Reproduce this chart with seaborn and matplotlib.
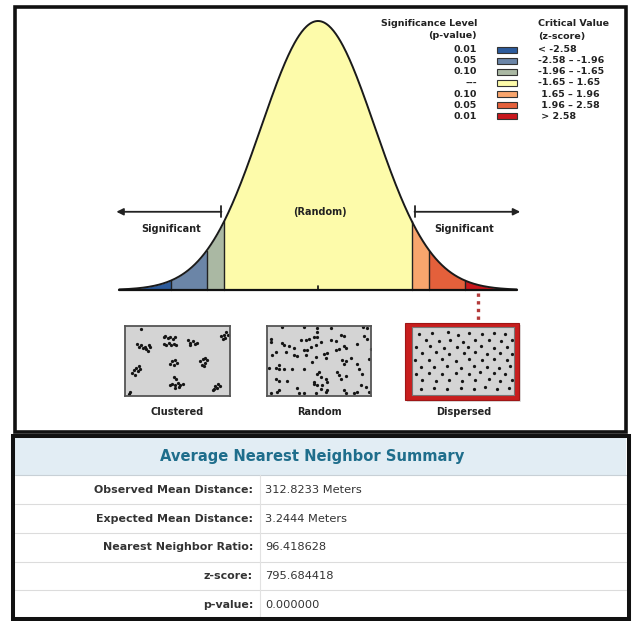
import numpy as np
import matplotlib
matplotlib.use("Agg")
import matplotlib.pyplot as plt
from matplotlib.patches import Rectangle
import seaborn as sns
import pandas as pd

sns.set_theme(style="white")
plt.rcParams['font.family'] = ['DejaVu Sans']

W, H = 632, 621

# ---------------- data ----------------
z_bounds = [-3.5, -2.58, -1.96, -1.65, 1.65, 1.96, 2.58, 3.5]
band_colors = ["#2c5b9c", "#6b85a7", "#aab8a3", "#fdfbaa", "#f8a56d", "#e4603b", "#c9171d"]
p_levels = ["0.01", "0.05", "0.10", "---", "0.10", "0.05", "0.01"]
z_ranges = ["< -2.58", "-2.58 \u2013 -1.96", "-1.96 \u2013 -1.65", "-1.65 \u2013 1.65",
            " 1.65 \u2013 1.96", " 1.96 \u2013 2.58", " > 2.58"]
pattern_names = ["Clustered", "Random", "Dispersed"]

summary_title = "Average Nearest Neighbor Summary"
summary_labels = ["Observed Mean Distance:", "Expected Mean Distance:",
                  "Nearest Neighbor Ratio:", "z-score:", "p-value:"]
summary_values = ["312.8233 Meters", "3.2444 Meters", "96.418628", "795.684418", "0.000000"]

# point patterns (picture coordinates)
clustered_x = [57, 45, 52, 58, 62, 68, 72, 80, 78, 85,
               125, 130, 138, 145, 152, 158, 125, 132, 140, 148, 155, 162,
               198, 205, 212, 218, 225, 205,
               298, 305, 312, 310, 318, 302,
               30, 35, 42, 50, 55, 48, 38,
               143, 150, 158, 165, 155,
               235, 242, 250, 255, 248, 240, 245,
               155, 162, 150, 160, 168, 175, 182, 170, 158, 145,
               275, 280, 288, 295, 285, 272,
               22, 25]
clustered_y = [20, 65, 75, 70, 78, 75, 80, 70, 88, 75,
               45, 42, 48, 45, 52, 45, 65, 68, 62, 70, 65, 70,
               55, 62, 58, 65, 62, 70,
               42, 38, 30, 48, 40, 52,
               152, 145, 138, 132, 140, 148, 158,
               125, 118, 115, 122, 128,
               118, 110, 108, 115, 122, 128, 132,
               165, 172, 185, 188, 182, 190, 185, 195, 198, 190,
               200, 192, 185, 192, 198, 205,
               215, 210]

random_x = [55, 120, 160, 200, 298, 310,
            20, 20, 55, 60, 75, 90, 110, 125, 135, 150, 160, 160, 170, 155, 140, 200, 215, 230, 240, 240, 245, 280, 300, 310, 320,
            25, 35, 65, 90, 100, 120, 125, 130, 155, 180, 190, 215, 225, 185, 235, 245, 240, 260, 280, 315,
            15, 35, 45, 45, 60, 85, 120, 145, 160, 165, 170, 185, 220, 225, 245, 285, 295,
            35, 45, 70, 150, 150, 160, 175, 190, 230, 290, 305,
            40, 45, 100, 105, 120, 155, 170, 185, 190, 240, 245, 270, 280, 315, 20]
random_y = [15, 15, 18, 18, 16, 18,
            50, 60, 62, 70, 72, 78, 55, 55, 50, 45, 45, 30, 60, 70, 75, 55, 58, 38, 42, 72, 78, 65, 42, 50, 80,
            98, 90, 90, 98, 102, 85, 98, 85, 105, 95, 92, 85, 80, 108, 115, 118, 125, 108, 125, 112,
            138, 138, 130, 140, 142, 142, 140, 120, 155, 150, 165, 170, 150, 158, 162, 140, 155,
            172, 178, 178, 180, 185, 188, 190, 180, 172, 190, 195,
            210, 205, 198, 212, 212, 212, 202, 210, 205, 205, 212, 212, 210, 210, 212]

dispersed_x = [925, 965, 1012, 1042, 1077, 1117, 1152, 1186,
               946, 985, 1020, 1057, 1096, 1137, 1172, 1206,
               916, 960, 1001, 1040, 1075, 1112, 1151, 1191,
               936, 976, 1016, 1061, 1096, 1131, 1171, 1205,
               914, 956, 995, 1036, 1076, 1116, 1151, 1192,
               931, 971, 1011, 1051, 1091, 1131, 1166, 1201,
               916, 956, 996, 1036, 1076, 1111, 1151, 1186,
               936, 976, 1016, 1056, 1096, 1136, 1171, 1206,
               931, 971, 1011, 1051, 1091, 1126, 1161, 1196]
dispersed_y = [73, 70, 68, 75, 70, 74, 69, 72,
               92, 95, 90, 96, 92, 90, 95, 91,
               112, 110, 115, 111, 113, 109, 114, 111,
               131, 128, 133, 130, 127, 132, 129, 133,
               150, 152, 148, 153, 149, 151, 147, 152,
               170, 172, 168, 173, 169, 171, 174, 168,
               191, 188, 193, 189, 192, 187, 190, 193,
               210, 214, 209, 213, 211, 208, 213, 210,
               236, 233, 238, 234, 237, 232, 236, 234]

# ---------------- figure ----------------
fig = plt.figure(figsize=(W / 100, H / 100), dpi=100)
fig.patch.set_facecolor("white")
bg = fig.add_axes([0, 0, 1, 1])
bg.set_xlim(0, W)
bg.set_ylim(H, 0)
bg.axis("off")


def frac(x0, y0, x1, y1):
    return [x0 / W, 1 - y1 / H, (x1 - x0) / W, (y1 - y0) / H]


TXT = "#222222"

# outer frames
bg.add_patch(Rectangle((14.5, 7), 611, 424.5, fill=False, ec="#111111", lw=2.6, zorder=5))
bg.add_patch(Rectangle((12.5, 435.5), 616, 183.5, fill=False, ec="#111111", lw=2.9, zorder=5))

# ---------------- bell curve ----------------
cx, pxz = 318.0, 56.8
ax = fig.add_axes(frac(cx - 3.5 * pxz, 21, cx + 3.5 * pxz, 290))
ax.set_xlim(-3.5, 3.5)
peak = 1 / np.sqrt(2 * np.pi)
ax.set_ylim(0, peak)
ax.axis("off")
ax.patch.set_alpha(0)


def pdf(v):
    return np.exp(-np.asarray(v) ** 2 / 2) / np.sqrt(2 * np.pi)


for i, c in enumerate(band_colors):
    zz = np.linspace(z_bounds[i], z_bounds[i + 1], 120)
    ax.fill_between(zz, 0, pdf(zz), color=c, lw=0, zorder=1)
for b in z_bounds[1:-1]:
    ax.plot([b, b], [0, pdf(b)], color="#222222", lw=1.0, zorder=2)

zc = np.linspace(-3.5, 3.5, 500)
curve = pd.DataFrame({"z": zc, "density": pdf(zc)})
sns.lineplot(data=curve, x="z", y="density", ax=ax, color="#1a1a1a", lw=1.4, zorder=3)
for ln in ax.lines:
    ln.set_clip_on(False)
ax.plot([-3.5, 3.5], [0, 0], color="#111111", lw=1.6, clip_on=False, zorder=4)
ax.plot([0, 0], [0, 0.006], color="#111111", lw=1.2, clip_on=False, zorder=4)
ax.set_xlabel("")
ax.set_ylabel("")

ya = 0.116
ax.annotate("", xy=(-3.55, ya), xytext=(-1.70, ya), annotation_clip=False,
            arrowprops=dict(arrowstyle="-|>", color="#222222", lw=1.3, mutation_scale=10,
                            shrinkA=0, shrinkB=0))
ax.annotate("", xy=(3.56, ya), xytext=(1.70, ya), annotation_clip=False,
            arrowprops=dict(arrowstyle="-|>", color="#222222", lw=1.3, mutation_scale=10,
                            shrinkA=0, shrinkB=0))
for s in (-1.70, 1.70):
    ax.plot([s, s], [ya - 0.008, ya + 0.008], color="#222222", lw=1.3, clip_on=False)
ax.text(-2.59, 0.091, "Significant", ha="center", va="center", fontsize=7, fontweight="bold", color=TXT)
ax.text(2.57, 0.091, "Significant", ha="center", va="center", fontsize=7, fontweight="bold", color=TXT)
ax.text(0.03, 0.115, "(Random)", ha="center", va="center", fontsize=7, fontweight="bold", color=TXT)

# ---------------- legend ----------------
lf = dict(fontsize=6.8, fontweight="bold", color=TXT)
bg.text(477, 24, "Significance Level", ha="right", va="center", **lf)
bg.text(477, 36, "(p-value)", ha="right", va="center", **lf)
bg.text(538, 24, "Critical Value", ha="left", va="center", **lf)
bg.text(538, 36, "(z-score)", ha="left", va="center", **lf)
for i, (p, zr, c) in enumerate(zip(p_levels, z_ranges, band_colors)):
    yy = 49.5 + i * 11.15
    bg.text(477, yy, p, ha="right", va="center", **lf)
    bg.add_patch(Rectangle((497, yy - 3), 20, 6, fc=c, ec="#333333", lw=0.8))
    bg.text(538, yy, zr, ha="left", va="center", **lf)

# ---------------- pattern panels ----------------
bg.add_patch(Rectangle((407, 325), 114, 77, fc="#c8c8c8", ec="none", alpha=0.6))
bg.add_patch(Rectangle((405, 323), 114, 77, fc="#c81e1e", ec="#9e1616", lw=0.8))
bg.plot([478, 478], [293, 321], color="#b33a3a", lw=2.4, ls=(0, (1, 1.3)), solid_capstyle="butt")

panels = [
    ((125, 326, 230, 396), clustered_x, clustered_y, (9, 324), (222, 12)),
    ((267, 326, 371, 396), random_x, random_y, (9, 321), (222, 12)),
    ((412, 327, 514, 395), dispersed_x, dispersed_y, (905, 1212), (255, 52)),
]
for k, (box, px, py, xl, yl) in enumerate(panels):
    pa = fig.add_axes(frac(*box))
    pa.set_facecolor("#d4d4d4")
    sns.scatterplot(x=px, y=py, ax=pa, s=5.5, color="#151515", linewidth=0)
    pa.set_xlim(*xl)
    pa.set_ylim(*yl)
    pa.set_xticks([])
    pa.set_yticks([])
    for sp in pa.spines.values():
        sp.set_visible(True)
        sp.set_color("#555555" if k < 2 else "#777777")
        sp.set_linewidth(1.3 if k < 2 else 0.8)

for name, xx in zip(pattern_names, [177, 319, 464]):
    bg.text(xx, 412, name, ha="center", va="center", fontsize=7, fontweight="bold", color=TXT)

# ---------------- summary table ----------------
bg.add_patch(Rectangle((15, 437), 611, 38, fc="#e2edf4", ec="none"))
bg.plot([15, 626], [475, 475], color="#c8d0d6", lw=0.8)
bg.text(312, 457, summary_title, ha="center", va="center", fontsize=10.6,
        fontweight="bold", color="#1f6e8c")
row_lines = [504, 533, 562, 590]
for yl_ in row_lines:
    bg.plot([15, 626], [yl_, yl_], color="#dcdcdc", lw=0.8)
bg.plot([260, 260], [475, 617], color="#e2e2e2", lw=0.8)
row_centers = [490, 519, 547.5, 576, 604.5]
for lab, val, yy in zip(summary_labels, summary_values, row_centers):
    bg.text(253, yy, lab, ha="right", va="center", fontsize=7.9, fontweight="bold", color="#333333")
    bg.text(265, yy, val, ha="left", va="center", fontsize=8.2, color="#333333")

fig.savefig("out.png", dpi=100, facecolor="white")
